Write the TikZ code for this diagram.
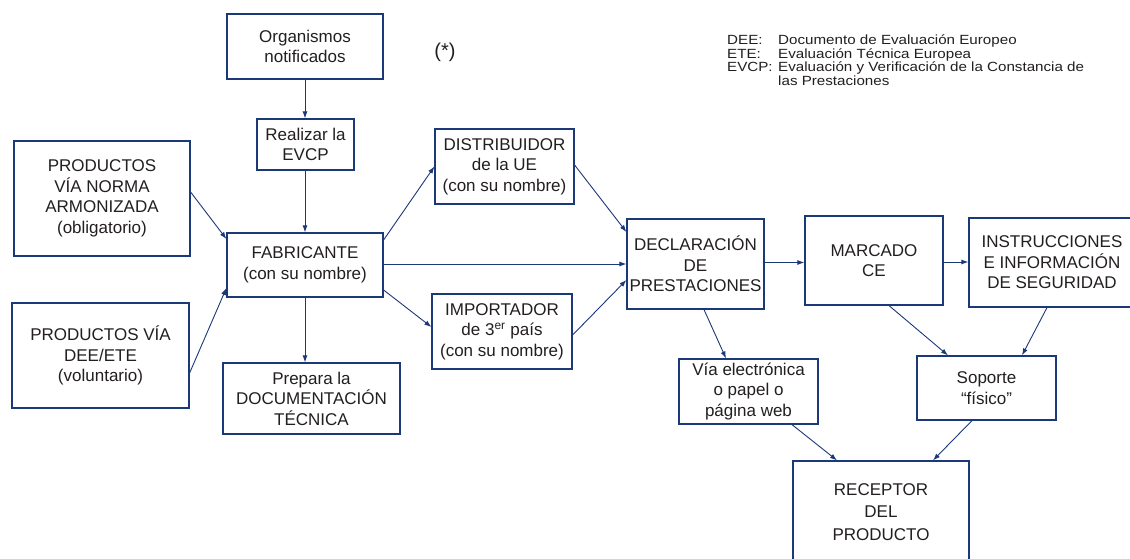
\documentclass[tikz,border=0pt]{standalone}
\usepackage{fontspec}
\setmainfont{Liberation Sans}
\newfontfamily\legendfont[FakeStretch=1.14]{Liberation Sans}
\usetikzlibrary{arrows.meta}
\definecolor{navy}{RGB}{27,56,120}
\definecolor{ink}{RGB}{35,31,32}
\begin{document}
\begin{tikzpicture}[x=1pt,y=-1pt,
  box/.style={draw=navy, line width=1.2pt, fill=white, text=ink, align=center, inner sep=0pt, font=\fontsize{17}{20.5}\selectfont},
  arr/.style={draw=navy, line width=0.9pt, -{Latex[length=7pt,width=5pt]}},
  legend/.style={text=ink, inner sep=0pt, anchor=base west, font=\legendfont\fontsize{13.3}{13}\selectfont}]
\path[use as bounding box, clip] (0,0) rectangle (1130,559);
\fill[white] (0,0) rectangle (1130,559);

% boxes
\node[box, minimum width=156pt, minimum height=65pt] (org) at (305,46.5) {Organismos\\notificados};
\node[box, minimum width=97pt, minimum height=51pt] (evcp) at (305.5,144.5) {Realizar la\\EVCP};
\node[box, minimum width=176pt, minimum height=115pt] (norma) at (102,198.5) {PRODUCTOS\\VÍA NORMA\\ARMONIZADA\\(obligatorio)};
\node[box, minimum width=156pt, minimum height=64pt] (fab) at (305,265) {FABRICANTE\\(con su nombre)};
\node[box, minimum width=177pt, minimum height=105pt] (dee) at (100.5,355.5) {PRODUCTOS VÍA\\DEE/ETE\\(voluntario)};
\node[box, minimum width=177pt, minimum height=71pt] (doc) at (311.5,398.5) {Prepara la\\DOCUMENTACIÓN\\TÉCNICA};
\node[box, minimum width=139pt, minimum height=75pt] (distr) at (504.5,166.5) {DISTRIBUIDOR\\de la UE\\(con su nombre)};
\node[box, minimum width=140pt, minimum height=75pt] (imp) at (502,331.5) {IMPORTADOR\\de 3\textsuperscript{er} país\\(con su nombre)};
\node[box, minimum width=137pt, minimum height=90pt] (decl) at (695.5,264) {DECLARACIÓN\\DE\\PRESTACIONES};
\node[box, minimum width=138pt, minimum height=89pt] (marc) at (874,260.5) {MARCADO\\CE};
\node[box, minimum width=166pt, minimum height=89pt] (instr) at (1052,262.5) {INSTRUCCIONES\\E INFORMACIÓN\\DE SEGURIDAD};
\node[box, minimum width=139pt, minimum height=65pt] (via) at (748.5,391.5) {Vía electrónica\\o papel o\\página web};
\node[box, minimum width=139pt, minimum height=64pt] (sop) at (986.5,388) {Soporte\\“físico”};
\node[box, minimum width=176pt, minimum height=102pt, font=\fontsize{17}{22.5}\selectfont] (rec) at (881,512) {RECEPTOR\\DEL\\PRODUCTO};

% note and legend
\node[text=ink, inner sep=0pt, font=\fontsize{20}{24}\selectfont] (star) at (445,52) {(*)};
\node[legend] (la1) at (727,45) {DEE:};
\node[legend] (lb1) at (778,45) {Documento de Evaluación Europeo};
\node[legend] (la2) at (727,58.5) {ETE:};
\node[legend] (lb2) at (778,58.5) {Evaluación Técnica Europea};
\node[legend] (la3) at (727,72) {EVCP:};
\node[legend] (lb3) at (778,72) {Evaluación y Verificación de la Constancia de};
\node[legend] (lb4) at (778,85.5) {las Prestaciones};

% connectors
\draw[arr] (org.south) -- (org.south |- evcp.north);
\draw[arr] (org.south |- evcp.south) -- (org.south |- fab.north);
\draw[arr] ([yshift=6.5pt]norma.east) -- ([yshift=26pt]fab.west);
\draw[arr] ([yshift=-17.5pt]dee.east) -- ([yshift=-23pt]fab.west);
\draw[arr] (fab.south) -- (fab.south |- doc.north);
\draw[arr] ([yshift=25pt]fab.east) -- (distr.west);
\draw[arr] ([yshift=-25pt]fab.east) -- ([yshift=4.5pt]imp.west);
\draw[arr] ([yshift=1pt]fab.east) -- ([yshift=1pt]fab.east -| decl.west);
\draw[arr] ([yshift=1.5pt]distr.east) -- ([yshift=32pt]decl.west);
\draw[arr] ([yshift=-3.5pt]imp.east) -- ([yshift=-16pt]decl.west);
\draw[arr] ([yshift=1.5pt]decl.east) -- ([yshift=1.5pt]decl.east -| marc.west);
\draw[arr] ([yshift=-1.5pt]marc.east) -- ([yshift=-1.5pt]marc.east -| instr.west);
\draw[arr] ([xshift=8.5pt]decl.south) -- ([xshift=-22.5pt]via.north);
\draw[arr] ([xshift=15pt]marc.south) -- ([xshift=-38.5pt]sop.north);
\draw[arr] ([xshift=-5pt]instr.south) -- ([xshift=35.5pt]sop.north);
\draw[arr] ([xshift=43.5pt]via.south) -- ([xshift=-44pt]rec.north);
\draw[arr] ([xshift=-14.5pt]sop.south) -- ([xshift=52pt]rec.north);
\end{tikzpicture}
\end{document}
